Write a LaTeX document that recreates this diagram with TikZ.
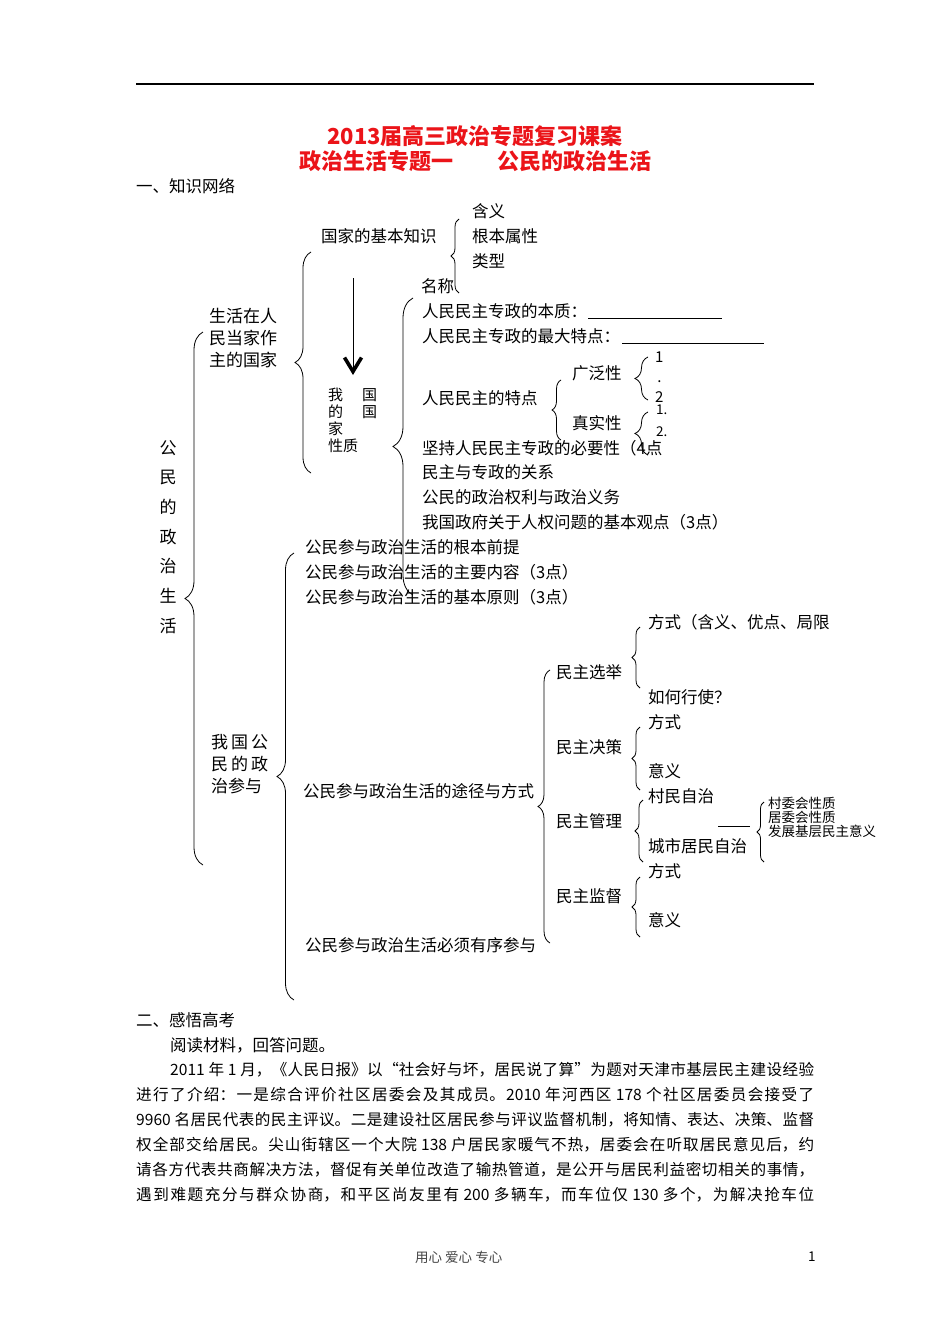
\documentclass[tikz,border=0pt]{standalone}
\usepackage{fontspec}
\setmainfont{Noto Sans CJK SC}
\usetikzlibrary{positioning,arrows.meta,decorations.pathreplacing}
\definecolor{titlered}{RGB}{235,20,25}
\definecolor{footgray}{RGB}{70,70,70}
\newcommand{\bodyfont}{\fontsize{16.5}{20}\selectfont}
\newcommand{\parafont}{\fontsize{15.6}{20}\selectfont}
\newcommand{\smallfont}{\fontsize{13.5}{14.2}\selectfont}
\newcommand{\titlefont}{\fontsize{22}{26}\selectfont\bfseries}
\XeTeXlinebreaklocale "zh"
\XeTeXlinebreakskip=0pt plus 3pt minus 0.8pt

\begin{document}
\begin{tikzpicture}[
    x=1pt, y=-1pt,
    node distance=25pt,
    txt/.style={anchor=west, inner sep=0pt, font=\bodyfont},
    hei/.style={anchor=west, inner sep=0pt, align=left},
    small/.style={anchor=west, inner sep=0pt, font=\smallfont},
    title/.style={inner sep=0pt, font=\titlefont, text=titlered},
    para/.style={anchor=west, inner sep=0pt, font=\parafont},
    brc/.style={decorate, decoration={brace, amplitude=#1}, line width=0.8pt}
]
    \fill[white] (0,0) rectangle (950,1344);
    \useasboundingbox (0,0) rectangle (950,1344);

    % page head
    \coordinate (rl) at (136,84);
    \coordinate (rr) at (814,84);
    \draw[line width=1.4pt] (rl) -- (rr);
    \node[title] (t1) at (475,136) {2013届高三政治专题复习课案};
    \node[title] (t2) at (475,161) {政治生活专题一　　公民的政治生活};
    \node[txt] (sec1) at (136,186) {一、知识网络};

    % left labels
    \node[hei, anchor=center, align=center, font=\fontsize{17}{29.7}\selectfont] (gm) at (168,537) {公\\民\\的\\政\\治\\生\\活};
    \node[hei, font=\fontsize{17}{22}\selectfont] (gj) at (209,338) {生活在人\\民当家作\\主的国家};
    \node[hei, font=\fontsize{17}{22}\selectfont] (cy) at (211,764) {我\hspace{3pt}国\hspace{3pt}公\\民\hspace{3pt}的\hspace{3pt}政\\治参与};

    % the state
    \node[txt] (jbzs) at (321,236) {国家的基本知识};
    \node[txt] (hy) at (472,211) {含义};
    \node[txt, below=of hy.west, anchor=west] (sx) {根本属性};
    \node[txt, below=of sx.west, anchor=west] (lx) {类型};
    \node[txt] (mc) at (421,286) {名称};
    \node[hei, font=\fontsize{15}{16.8}\selectfont] (xz) at (328,420.5) {我\hspace{19pt}国\\的\hspace{19pt}国\\家\\性质};
    \coordinate (a1) at (353,278);
    \coordinate (a2) at (353,375);
    \draw[line width=0.8pt, -{Straight Barb[length=14pt, width=17pt, line width=3.6pt]}] (a1) -- (a2);

    \node[txt] (bz) at (422,311) {人民民主专政的本质：};
    \node[txt, below=of bz.west, anchor=west] (td) {人民民主专政的最大特点：};
    \coordinate (u1) at (588,318);
    \coordinate (u2) at (722,318);
    \coordinate (u3) at (622,343);
    \coordinate (u4) at (764,343);
    \draw[line width=0.7pt] (u1) -- (u2);
    \draw[line width=0.7pt] (u3) -- (u4);
    \node[txt] (mzt) at (422,398) {人民民主的特点};
    \node[txt] (gfx) at (572,373) {广泛性};
    \node[txt] (zsx) at (572,423) {真实性};
    \node[txt, align=center, font=\fontsize{15}{20}\selectfont] (d12) at (655,377) {1\\.\\2};
    \node[small] (e1) at (656,410) {1.};
    \node[small] (e2) at (656,432) {2.};
    \node[txt] (byx) at (422,448) {坚持人民民主专政的必要性（4点};
    \node[txt, below=of byx.west, anchor=west, yshift=0.5pt] (gx) {民主与专政的关系};
    \node[txt, below=of gx.west, anchor=west] (ql) {公民的政治权利与政治义务};
    \node[txt, below=of ql.west, anchor=west] (rq) {我国政府关于人权问题的基本观点（3点）};

    % participation
    \node[txt] (qt) at (305,547) {公民参与政治生活的根本前提};
    \node[txt, below=of qt.west, anchor=west] (nr) {公民参与政治生活的主要内容（3点）};
    \node[txt, below=of nr.west, anchor=west] (yz) {公民参与政治生活的基本原则（3点）};
    \node[txt] (tj) at (303,791) {公民参与政治生活的途径与方式};
    \node[txt] (yx) at (305,945) {公民参与政治生活必须有序参与};

    \node[txt] (xj) at (556,672) {民主选举};
    \node[txt] (jc) at (556,747) {民主决策};
    \node[txt] (gl) at (556,821) {民主管理};
    \node[txt] (jd) at (556,896) {民主监督};

    \node[txt] (fs1) at (648,622) {方式（含义、优点、局限};
    \node[txt] (hx) at (648,697) {如何行使？};
    \node[txt] (fs2) at (648,722) {方式};
    \node[txt] (yy1) at (648,771) {意义};
    \node[txt] (cm) at (648,796) {村民自治};
    \node[txt] (js) at (648,846) {城市居民自治};
    \node[txt] (fs3) at (648,871) {方式};
    \node[txt] (yy2) at (648,920) {意义};

    \node[small] (cw) at (768,803) {村委会性质};
    \node[small] (jw) at (768,817) {居委会性质};
    \node[small] (fz) at (768,831) {发展基层民主意义};
    \coordinate (l1) at (718,826);
    \coordinate (l2) at (750,826);
    \draw[line width=0.9pt] (l1) -- (l2);

    % braces
    \draw[brc=8] (459,293) -- (459,219);
    \draw[brc=16] (311,473) -- (311,252);
    \draw[brc=20] (413,595) -- (413,298);
    \draw[brc=18] (203,865) -- (203,332);
    \draw[brc=17] (294,1000) -- (294,553);
    \draw[brc=12] (550,943) -- (550,670);
    \draw[brc=9] (561,440) -- (561,380);
    \draw[brc=13] (648,400) -- (648,357);
    \draw[brc=13] (648,455) -- (648,412);
    \draw[brc=8] (640,688) -- (640,627);
    \draw[brc=8] (640,790) -- (640,727);
    \draw[brc=8] (643,862) -- (643,800);
    \draw[brc=8] (640,937) -- (640,877);
    \draw[brc=7] (764,862) -- (764,802);

    % second part
    \node[txt] (sec2) at (136,1020) {二、感悟高考};
    \node[txt] (yd) at (170,1045) {阅读材料，回答问题。};
    \node[para] (p1) at (170,1070) {\parbox{644pt}{\parfillskip=0pt 2011 年 1 月，《人民日报》以“社会好与坏，居民说了算”为题对天津市基层民主建设经验}};
    \node[para] (p2) at (136,1095) {\parbox{678pt}{\parfillskip=0pt 进行了介绍：一是综合评价社区居委会及其成员。2010 年河西区 178 个社区居委员会接受了}};
    \node[para] (p3) at (136,1120) {\parbox{678pt}{\parfillskip=0pt 9960 名居民代表的民主评议。二是建设社区居民参与评议监督机制，将知情、表达、决策、监督}};
    \node[para] (p4) at (136,1145) {\parbox{678pt}{\parfillskip=0pt 权全部交给居民。尖山街辖区一个大院 138 户居民家暖气不热，居委会在听取居民意见后，约}};
    \node[para] (p5) at (136,1170) {\parbox{678pt}{\parfillskip=0pt 请各方代表共商解决方法，督促有关单位改造了输热管道，是公开与居民利益密切相关的事情，}};
    \node[para] (p6) at (136,1195) {\parbox{678pt}{\parfillskip=0pt 遇到难题充分与群众协商，和平区尚友里有 200 多辆车，而车位仅 130 多个，为解决抢车位}};

    % foot
    \node[small, text=footgray] (ft) at (415,1257) {用心 爱心 专心};
    \node[small] (pg) at (808,1257) {1};
\end{tikzpicture}
\end{document}
